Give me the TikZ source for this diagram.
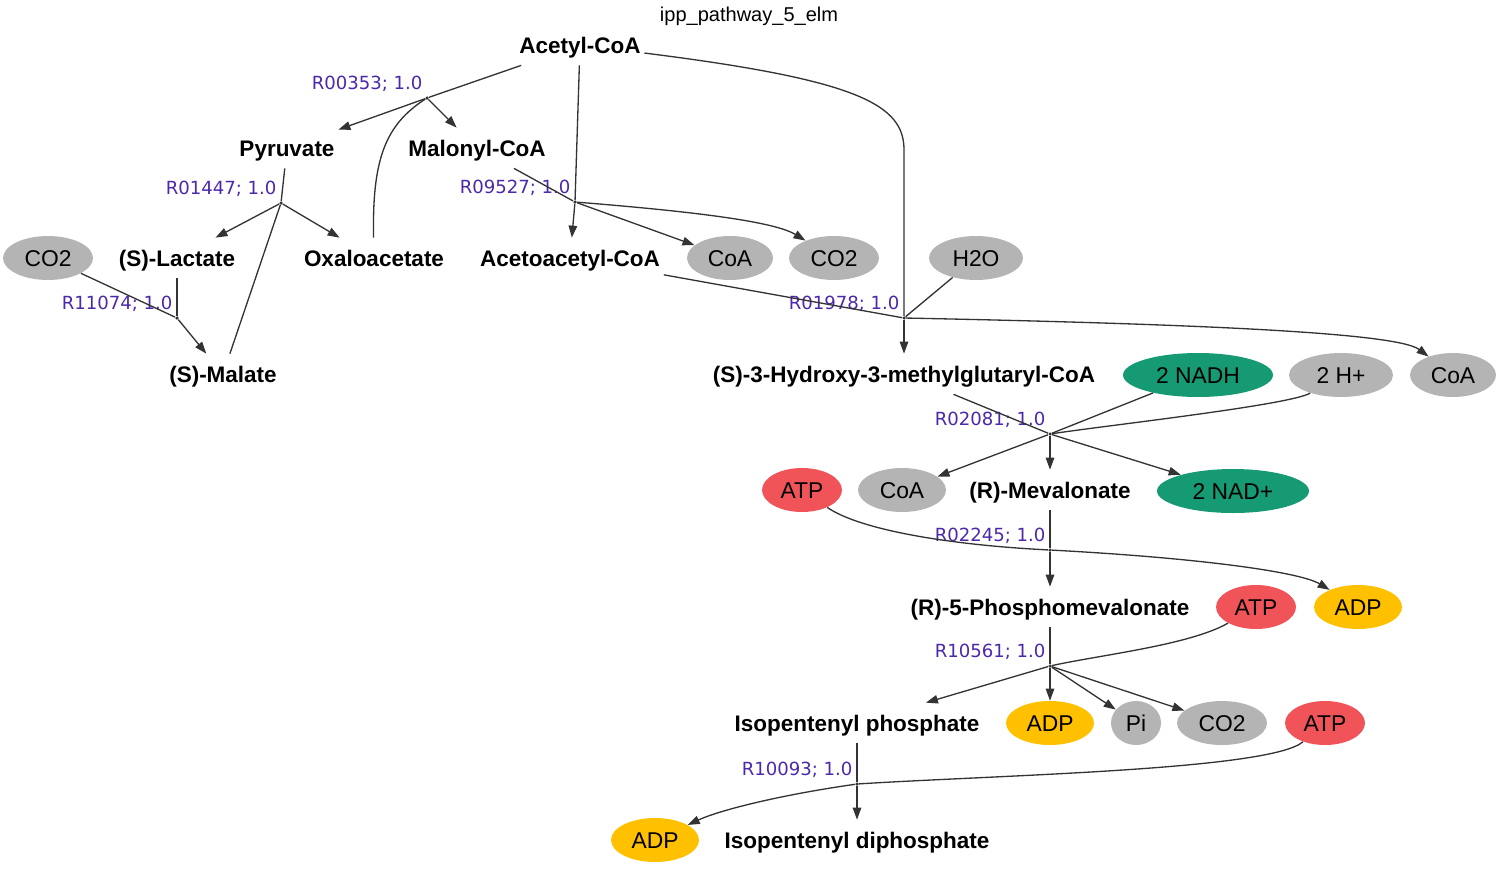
\documentclass[tikz,border=0pt]{standalone}
\usepackage{fontspec}
\setmainfont{Liberation Sans}
\newfontfamily\rxnfont{DejaVu Sans}
\usetikzlibrary{arrows.meta,positioning,shapes.geometric}
\definecolor{cofgrey}{RGB}{180,180,180}
\definecolor{nadgreen}{RGB}{22,154,116}
\definecolor{atpred}{RGB}{240,84,88}
\definecolor{adpyellow}{RGB}{255,192,0}
\definecolor{rxnpurple}{RGB}{76,40,170}
\definecolor{edgegrey}{RGB}{51,51,51}

\begin{document}
\begin{tikzpicture}[
      x=0.02cm, y=-0.02cm,
      cpd/.style={font=\fontsize{12.8}{15}\selectfont\bfseries, text height=9.2pt, text depth=0pt, minimum height=0.8cm, inner sep=2pt},
      cof/.style={ellipse, fill=cofgrey, font=\fontsize{13}{15}\selectfont, text height=9.3pt, text depth=0pt, inner sep=0pt, minimum height=0.88cm},
      nad/.style={cof, fill=nadgreen},
      atp/.style={cof, fill=atpred},
      adp/.style={cof, fill=adpyellow},
      junc/.style={circle, fill=edgegrey, inner sep=0pt, minimum size=2pt},
      rxn/.style={font=\rxnfont\fontsize{10.3}{12}\selectfont, text=rxnpurple, inner sep=0pt},
      inflow/.style={draw=edgegrey, line width=0.75pt},
      outflow/.style={inflow, -{Triangle[length=2.4mm, width=1.7mm]}}
    ]
    \useasboundingbox (0,0) rectangle (1500,869);
    \node[font=\fontsize{11.4}{13}\selectfont] (title) at (749,16) {ipp\_pathway\_5\_elm};

    % compounds
    \node[cpd] (acetyl) at (580,45) {Acetyl-CoA};
    \node[cpd] (pyruvate) at (287,148) {Pyruvate};
    \node[cpd] (malonyl) at (477,148) {Malonyl-CoA};
    \node[cpd] (lactate) at (177,258) {(S)-Lactate};
    \node[cpd] (oxalo) at (374,258) {Oxaloacetate};
    \node[cpd] (acetoacetyl) at (570,258) {Acetoacetyl-CoA};
    \node[cpd] (malate) at (223,374) {(S)-Malate};
    \node[cpd] (hmg) at (904,374) {(S)-3-Hydroxy-3-methylglutaryl-CoA};
    \node[cpd] (mevalonate) at (1050,490) {(R)-Mevalonate};
    \node[cpd] (phosmev) at (1050,607) {(R)-5-Phosphomevalonate};
    \node[cpd] (isop) at (857,723) {Isopentenyl phosphate};
    \node[cpd] (ipp) at (857,840) {Isopentenyl diphosphate};

    % cofactors
    \node[cof, minimum width=1.8cm] (co2a) at (48,258) {CO2};
    \node[cof, minimum width=1.72cm] (coa1) at (730,258) {CoA};
    \node[cof, minimum width=1.8cm] (co2b) at (834,258) {CO2};
    \node[cof, minimum width=1.88cm] (h2o) at (976,258) {H2O};
    \node[nad, minimum width=3cm] (nadh) at (1198,375) {2 NADH};
    \node[cof, minimum width=2.08cm] (hplus) at (1341,375) {2 H+};
    \node[cof, minimum width=1.72cm] (coa2) at (1453,375) {CoA};
    \node[atp, minimum width=1.6cm] (atp1) at (802,490) {ATP};
    \node[cof, minimum width=1.76cm] (coa3) at (902,490) {CoA};
    \node[nad, minimum width=3.04cm] (nadplus) at (1233,491) {2 NAD+};
    \node[atp, minimum width=1.6cm] (atp2) at (1256,607) {ATP};
    \node[adp, minimum width=1.76cm] (adp1) at (1358,607) {ADP};
    \node[adp, minimum width=1.76cm] (adp2) at (1050,723) {ADP};
    \node[cof, minimum width=1cm] (pi) at (1136,723) {Pi};
    \node[cof, minimum width=1.8cm] (co2c) at (1222,723) {CO2};
    \node[atp, minimum width=1.6cm] (atp3) at (1325,723) {ATP};
    \node[adp, minimum width=1.76cm] (adp3) at (655,840) {ADP};

    % reactions
    \node[junc] (r00353) at (427,98) {};
    \node[junc] (r01447) at (281,203) {};
    \node[junc] (r09527) at (575,202) {};
    \node[junc] (r11074) at (177,318) {};
    \node[junc] (r01978) at (904,318) {};
    \node[junc] (r02081) at (1050,434) {};
    \node[junc] (r02245) at (1050,550) {};
    \node[junc] (r10561) at (1050,666) {};
    \node[junc] (r10093) at (857,784) {};
    \node[rxn, above left=2.5pt and 1.5pt of r00353] (l00353) {R00353; 1.0};
    \node[rxn, above left=2.5pt and 1.5pt of r01447] (l01447) {R01447; 1.0};
    \node[rxn, above left=2.5pt and 1.5pt of r09527] (l09527) {R09527; 1.0};
    \node[rxn, above left=2.5pt and 1.5pt of r11074] (l11074) {R11074; 1.0};
    \node[rxn, above left=2.5pt and 1.5pt of r01978] (l01978) {R01978; 1.0};
    \node[rxn, above left=2.5pt and 1.5pt of r02081] (l02081) {R02081; 1.0};
    \node[rxn, above left=2.5pt and 1.5pt of r02245] (l02245) {R02245; 1.0};
    \node[rxn, above left=2.5pt and 1.5pt of r10561] (l10561) {R10561; 1.0};
    \node[rxn, above left=2.5pt and 1.5pt of r10093] (l10093) {R10093; 1.0};

    % R00353
    \draw[inflow] (acetyl) -- (r00353);
    \draw[inflow] (oxalo) .. controls (372,160) and (385,125) .. (r00353);
    \draw[outflow] (r00353) -- (pyruvate);
    \draw[outflow] (r00353) -- (malonyl);
    % R01447
    \draw[inflow] (pyruvate) -- (r01447);
    \draw[inflow] (malate) -- (r01447);
    \draw[outflow] (r01447) -- (lactate);
    \draw[outflow] (r01447) -- (oxalo);
    % R09527
    \draw[inflow] (malonyl) -- (r09527);
    \draw[inflow] (acetyl) -- (r09527);
    \draw[outflow] (r09527) -- (acetoacetyl);
    \draw[outflow] (r09527) -- (coa1);
    \draw[outflow] (r09527) .. controls (700,212) and (775,222) .. (co2b);
    % R11074
    \draw[inflow] (co2a) -- (r11074);
    \draw[inflow] (lactate) -- (r11074);
    \draw[outflow] (r11074) -- (malate);
    % R01978
    \draw[inflow] (acetyl) .. controls (860,80) and (904,105) .. (904,150) -- (r01978);
    \draw[inflow] (acetoacetyl) -- (r01978);
    \draw[inflow] (h2o) -- (r01978);
    \draw[outflow] (r01978) -- (hmg);
    \draw[outflow] (r01978) .. controls (1250,325) and (1400,335) .. (coa2);
    % R02081
    \draw[inflow] (hmg) -- (r02081);
    \draw[inflow] (nadh) -- (r02081);
    \draw[inflow] (hplus) .. controls (1290,405) and (1110,425) .. (r02081);
    \draw[outflow] (r02081) -- (coa3);
    \draw[outflow] (r02081) -- (mevalonate);
    \draw[outflow] (r02081) -- (nadplus);
    % R02245
    \draw[inflow] (mevalonate) -- (r02245);
    \draw[inflow] (atp1) .. controls (860,530) and (950,545) .. (r02245);
    \draw[outflow] (r02245) -- (phosmev);
    \draw[outflow] (r02245) .. controls (1200,558) and (1300,572) .. (adp1);
    % R10561
    \draw[inflow] (phosmev) -- (r10561);
    \draw[inflow] (atp2) .. controls (1190,645) and (1100,655) .. (r10561);
    \draw[outflow] (r10561) -- (isop);
    \draw[outflow] (r10561) -- (adp2);
    \draw[outflow] (r10561) -- (pi);
    \draw[outflow] (r10561) -- (co2c);
    % R10093
    \draw[inflow] (isop) -- (r10093);
    \draw[inflow] (atp3) .. controls (1270,770) and (1000,775) .. (r10093);
    \draw[outflow] (r10093) .. controls (780,795) and (720,810) .. (adp3);
    \draw[outflow] (r10093) -- (ipp);
  \end{tikzpicture}
\end{document}
